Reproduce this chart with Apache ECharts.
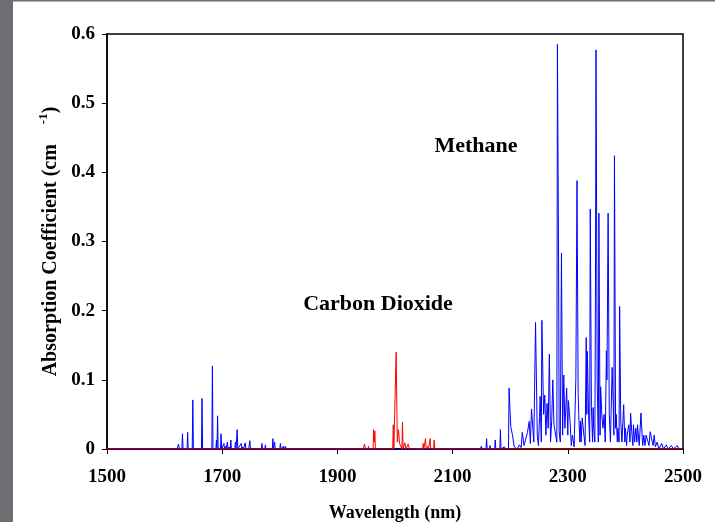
<!DOCTYPE html>
<html>
<head>
<meta charset="utf-8">
<script src="https://cdn.jsdelivr.net/npm/echarts@6/dist/echarts.min.js"></script>
<style>
  html, body { margin: 0; padding: 0; background: #fff; }
  #chart { width: 715px; height: 522px; }
</style>
</head>
<body>
<div id="chart"></div>
<script>
// methane spectrum (nm, cm-1)
var ch4Wl = [1500, 1622, 1624, 1626, 1630, 1631, 1632, 1639, 1640, 1641, 1648, 1649, 1650, 1664, 1665, 1666, 1682, 1683, 1684, 1689,
  1690, 1691, 1692, 1693, 1697, 1698, 1699, 1703, 1704, 1706, 1707, 1709, 1710, 1712, 1714, 1715, 1716, 1722, 1723, 1724,
  1726, 1727, 1733, 1734, 1736, 1737, 1740, 1741, 1744, 1746, 1748, 1749, 1768, 1769, 1770, 1774, 1775, 1776, 1787, 1788,
  1789, 1790, 1791, 1792, 1800, 1801, 1802, 1806, 1807, 1810, 1811,
  2148, 2150, 2151, 2158, 2159, 2160, 2164, 2165, 2166, 2173, 2174, 2175, 2182, 2183, 2184, 2190, 2192,
  2197, 2198, 2201, 2204, 2207, 2212, 2216, 2219, 2221, 2224, 2227, 2230, 2233, 2235, 2237, 2241, 2244, 2247, 2249, 2251,
  2252, 2254, 2255, 2258, 2260, 2262, 2264, 2266, 2268, 2270, 2272, 2274, 2276, 2279, 2281, 2282, 2284, 2285, 2287, 2289,
  2291, 2293, 2295, 2298, 2300, 2301, 2304, 2306, 2308, 2311, 2314, 2316, 2318, 2319, 2321, 2322, 2323, 2325, 2328, 2330,
  2332, 2333, 2334, 2336, 2338, 2339, 2341, 2343, 2344, 2345, 2347, 2348, 2349, 2351, 2353, 2354, 2356, 2357, 2359, 2361,
  2363, 2365, 2367, 2368, 2370, 2372, 2374, 2377, 2379, 2380, 2381, 2383, 2384, 2386, 2387, 2389, 2390, 2392, 2394, 2397,
  2399, 2400, 2402, 2403, 2406, 2408, 2409, 2411, 2413, 2414, 2416, 2418, 2420, 2421, 2424, 2427, 2430, 2432, 2434, 2436,
  2439, 2441, 2443, 2446, 2448, 2450, 2452, 2455, 2458, 2463, 2466, 2471, 2474, 2480, 2483, 2490, 2493, 2500];
var ch4Abs = [0, 0, 0.007, 0, 0, 0.022, 0, 0, 0.024, 0, 0, 0.071, 0, 0, 0.073, 0, 0, 0.12, 0, 0,
  0.013, 0, 0.048, 0, 0, 0.022, 0, 0.008, 0, 0.004, 0, 0.01, 0, 0.003, 0, 0.013, 0, 0, 0.01, 0,
  0.028, 0, 0.008, 0, 0.003, 0, 0.009, 0, 0.002, 0, 0.012, 0, 0, 0.008, 0, 0, 0.006, 0, 0, 0.015,
  0, 0, 0.01, 0, 0, 0.008, 0, 0.004, 0, 0.004, 0,
  0, 0.004, 0, 0, 0.015, 0, 0, 0.005, 0, 0, 0.013, 0, 0, 0.028, 0, 0.003, 0,
  0, 0.088, 0.032, 0.02, 0.003, 0, 0.006, 0.002, 0.024, 0.005, 0.003, 0.024, 0.04, 0.008, 0.058, 0.01, 0.183, 0.02, 0.005, 0.047,
  0.076, 0.01, 0.186, 0.05, 0.078, 0.02, 0.066, 0.03, 0.137, 0.01, 0.04, 0.1, 0.035, 0.02, 0.01, 0.585, 0.27, 0.025, 0.01, 0.283,
  0.02, 0.107, 0.03, 0.088, 0.02, 0.07, 0.04, 0.005, 0.02, 0.003, 0.102, 0.388, 0.08, 0.05, 0.01, 0.04, 0.01, 0.045, 0.02, 0.005,
  0.161, 0.05, 0.141, 0.05, 0.01, 0.347, 0.06, 0.01, 0.06, 0.03, 0.01, 0.227, 0.577, 0.1, 0.01, 0.341, 0.02, 0.09, 0.05, 0.03,
  0.05, 0.01, 0.142, 0.1, 0.341, 0.05, 0.01, 0.118, 0.06, 0.02, 0.424, 0.03, 0.05, 0.01, 0.03, 0.01, 0.206, 0.04, 0.01, 0.064,
  0.01, 0.03, 0.005, 0.02, 0.035, 0.01, 0.052, 0.025, 0.005, 0.035, 0.01, 0.03, 0.01, 0.035, 0.005, 0.052, 0.005, 0.02, 0.005, 0.02,
  0.02, 0.005, 0.025, 0.025, 0.005, 0.02, 0.003, 0.01, 0, 0.008, 0, 0.006, 0, 0.005, 0, 0.005, 0, 0];

// carbon dioxide spectrum
var co2Wl = [1500, 1568, 1569, 1570, 1577, 1578, 1579, 1945, 1947, 1949, 1953, 1954, 1955, 1962, 1963, 1964, 1965, 1966, 1996, 1997,
  1998, 2001, 2002, 2004, 2006, 2008, 2012, 2013, 2014, 2017, 2019, 2023, 2025, 2048, 2049, 2050, 2052, 2053, 2054, 2057,
  2058, 2060, 2061, 2062, 2067, 2068, 2069, 2500];
var co2Abs = [0, 0, 0.002, 0, 0, 0.002, 0, 0, 0.007, 0, 0, 0.004, 0, 0, 0.028, 0.01, 0.026, 0, 0, 0.035,
  0, 0, 0.14, 0.01, 0.028, 0.008, 0, 0.039, 0, 0.009, 0, 0.007, 0, 0, 0.008, 0, 0, 0.015, 0, 0.004,
  0, 0, 0.015, 0, 0, 0.013, 0, 0];

var xTicks = [1500, 1700, 1900, 2100, 2300, 2500];
var yTicks = [0, 0.1, 0.2, 0.3, 0.4, 0.5, 0.6];

function pairs(xs, ys) {
  return xs.map(function (x, i) { return [x, ys[i]]; });
}

var serif = '"Liberation Serif", "DejaVu Serif", serif';
var myChart = echarts.init(document.getElementById('chart'));

myChart.setOption({
  backgroundColor: '#fff',
  animation: false,
  grid: {
    left: 107, right: 32, top: 34, bottom: 73,
    containLabel: false,
    outerBoundsMode: 'none',
    show: true,
    borderColor: '#000',
    borderWidth: 1.5
  },
  graphic: [
    { type: 'rect', left: 0, top: 0, shape: { width: 13, height: 522 }, style: { fill: '#6f6d72' } },
    { type: 'rect', left: 0, top: 0, shape: { width: 715, height: 1.5 }, style: { fill: '#6f6d72' } },
    {
      type: 'text', x: 476, y: 146,
      style: { text: 'Methane', font: 'bold 22px ' + serif, fill: '#000', align: 'center', verticalAlign: 'middle' }
    },
    {
      type: 'text', x: 378, y: 304,
      style: { text: 'Carbon Dioxide', font: 'bold 22px ' + serif, fill: '#000', align: 'center', verticalAlign: 'middle' }
    }
  ],
  xAxis: {
    type: 'value',
    min: xTicks[0],
    max: xTicks[xTicks.length - 1],
    interval: 200,
    name: 'Wavelength (nm)',
    nameLocation: 'middle',
    nameGap: 55,
    nameTextStyle: { fontFamily: serif, fontWeight: 'bold', fontSize: 18, color: '#000' },
    axisLine: { lineStyle: { color: '#000', width: 1.5 } },
    axisTick: { show: true, inside: false, length: 5, lineStyle: { color: '#000' } },
    axisLabel: {
      fontFamily: serif, fontWeight: 'bold', fontSize: 19, color: '#000', margin: 19,
      formatter: function (v) { return String(v); }
    },
    splitLine: { show: false }
  },
  yAxis: {
    type: 'value',
    min: yTicks[0],
    max: yTicks[yTicks.length - 1],
    interval: 0.1,
    name: '{t|Absorption Coefficient (cm    }{s|-1}{t|)}',
    nameLocation: 'middle',
    nameGap: 37,
    nameTextStyle: {
      fontFamily: serif, fontWeight: 'bold', fontSize: 20, color: '#000',
      rich: {
        t: { fontFamily: serif, fontWeight: 'bold', fontSize: 20, color: '#000', lineHeight: 26 },
        s: { fontFamily: serif, fontWeight: 'bold', fontSize: 13, color: '#000', verticalAlign: 'top', lineHeight: 14 }
      }
    },
    axisLine: { show: true, lineStyle: { color: '#000', width: 1.5 } },
    axisTick: { show: true, inside: false, length: 5, lineStyle: { color: '#000' } },
    axisLabel: {
      fontFamily: serif, fontWeight: 'bold', fontSize: 19, color: '#000', margin: 12,
      formatter: function (v) { return v === 0 ? '0' : v.toFixed(1); }
    },
    splitLine: { show: false }
  },
  series: [
    {
      name: 'Methane',
      type: 'line',
      data: pairs(ch4Wl, ch4Abs),
      showSymbol: false,
      lineStyle: { color: '#0000ff', width: 1 },
      z: 2
    },
    {
      name: 'Carbon Dioxide',
      type: 'line',
      data: pairs(co2Wl, co2Abs),
      showSymbol: false,
      lineStyle: { color: '#ff0000', width: 1 },
      z: 3
    }
  ]
});
</script>
</body>
</html>
